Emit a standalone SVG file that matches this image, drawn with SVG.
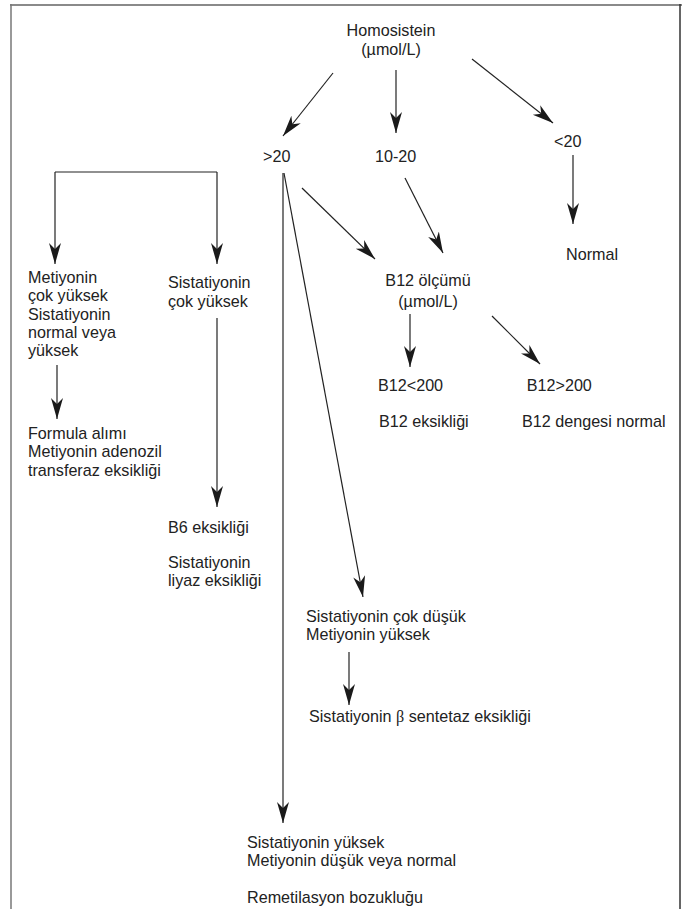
<svg xmlns="http://www.w3.org/2000/svg" width="682" height="909" viewBox="0 0 682 909">
<style>
text{font-family:"Liberation Sans",Arial,sans-serif;font-size:17px;fill:#222}
.m{text-anchor:middle}
.c line,.c path{stroke:#222;stroke-width:1.2;fill:none}
.a{marker-end:url(#ah)}
</style>
<defs>
<marker id="ah" viewBox="-21 -7 22 14" refX="0" refY="0" markerWidth="22" markerHeight="14" markerUnits="userSpaceOnUse" orient="auto">
<path d="M0,0 L-21,-6 L-15,0 L-21,6 Z" fill="#1a1a1a" stroke="none"/>
</marker>
</defs>
<rect width="682" height="909" fill="#fff"/>
<g id="frame">
<line x1="10" y1="5" x2="682" y2="5" stroke="#8a8a8a" stroke-width="2"/>
<line x1="11" y1="4" x2="11" y2="909" stroke="#777" stroke-width="1.5"/>
<line x1="680" y1="4" x2="680" y2="909" stroke="#333" stroke-width="1.5"/>
</g>
<g id="connectors" class="c">
<line class="a" x1="333" y1="73" x2="283" y2="136"/>
<line class="a" x1="396" y1="70" x2="396" y2="133"/>
<line class="a" x1="472" y1="59" x2="553" y2="123"/>
<line class="a" x1="573" y1="155" x2="573" y2="224"/>
<line class="a" x1="302" y1="188" x2="375" y2="259"/>
<line class="a" x1="405" y1="178" x2="443" y2="253"/>
<line class="a" x1="410" y1="314" x2="410" y2="367"/>
<line class="a" x1="492" y1="316" x2="540" y2="364"/>
<line class="a" x1="284" y1="173" x2="363" y2="597"/>
<line class="a" x1="283" y1="173" x2="283" y2="823"/>
<path d="M55,172 H217"/>
<line class="a" x1="55" y1="172" x2="55" y2="264"/>
<line class="a" x1="217" y1="172" x2="217" y2="264"/>
<line class="a" x1="57" y1="365" x2="57" y2="419"/>
<line class="a" x1="217" y1="318" x2="217" y2="507"/>
<line class="a" x1="349" y1="652" x2="349" y2="705"/>
</g>
<g id="n-homosistein" transform="translate(391 0) scale(.95 1)"><text class="m" x="0" y="36">Homosistein</text><text class="m" x="0" y="55">(µmol/L)</text></g>
<g id="n-gt20" transform="translate(263 0) scale(.95 1)"><text x="0" y="162">&gt;20</text></g>
<g id="n-10-20" transform="translate(375 0) scale(.95 1)"><text x="0" y="162">10-20</text></g>
<g id="n-lt20" transform="translate(554 0) scale(.95 1)"><text x="0" y="147">&lt;20</text></g>
<g id="n-normal" transform="translate(566 0) scale(.95 1)"><text x="0" y="260">Normal</text></g>
<g id="n-b12" transform="translate(428 0) scale(.95 1)"><text class="m" x="0" y="286">B12 ölçümü</text><text class="m" x="0" y="307">(µmol/L)</text></g>
<g id="n-b12lt" transform="translate(378 0) scale(.95 1)"><text x="0" y="391">B12&lt;200</text><text x="1" y="427">B12 eksikliği</text></g>
<g id="n-b12gt" transform="translate(522 0) scale(.95 1)"><text x="5" y="391">B12&gt;200</text><text x="0" y="427">B12 dengesi normal</text></g>
<g id="n-metiyonin" transform="translate(28 0) scale(.95 1)"><text x="0" y="283">Metiyonin</text><text x="0" y="301">çok yüksek</text><text x="0" y="320">Sistatiyonin</text><text x="0" y="338">normal veya</text><text x="0" y="356">yüksek</text></g>
<g id="n-formula" transform="translate(28 0) scale(.95 1)"><text x="0" y="439">Formula alımı</text><text x="0" y="457">Metiyonin adenozil</text><text x="0" y="476">transferaz eksikliği</text></g>
<g id="n-sis-cok" transform="translate(168 0) scale(.95 1)"><text x="0" y="288">Sistatiyonin</text><text x="0" y="307">çok yüksek</text></g>
<g id="n-b6" transform="translate(168 0) scale(.95 1)"><text x="0" y="533">B6 eksikliği</text><text x="0" y="568">Sistatiyonin</text><text x="0" y="586">liyaz eksikliği</text></g>
<g id="n-sis-dusuk" transform="translate(306 0) scale(.95 1)"><text x="0" y="622">Sistatiyonin çok düşük</text><text x="0" y="640">Metiyonin yüksek</text></g>
<g id="n-beta" transform="translate(309 0) scale(.95 1)"><text x="0" y="722">Sistatiyonin <tspan font-family="'Liberation Serif',serif">β</tspan> sentetaz eksikliği</text></g>
<g id="n-remet" transform="translate(247 0) scale(.95 1)"><text x="0" y="848">Sistatiyonin yüksek</text><text x="0" y="866">Metiyonin düşük veya normal</text><text x="0" y="903">Remetilasyon bozukluğu</text></g>
</svg>
